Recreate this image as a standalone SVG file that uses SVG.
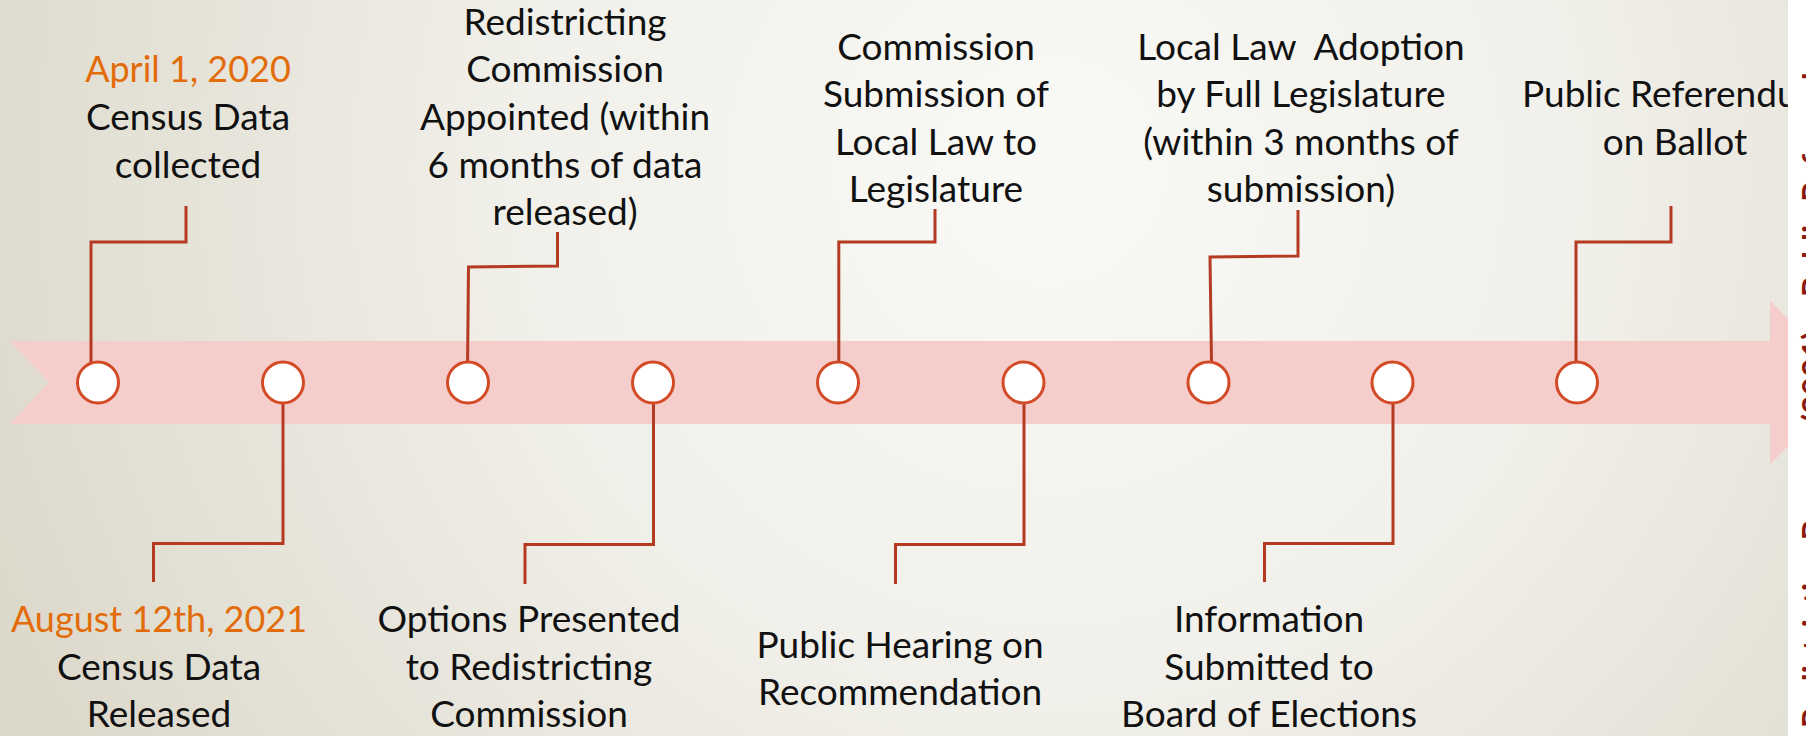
<svg xmlns="http://www.w3.org/2000/svg" width="1806" height="736" viewBox="0 0 1806 736">
<defs>
<radialGradient id="bg" gradientUnits="userSpaceOnUse" cx="1050" cy="170" r="1150">
<stop offset="0" stop-color="#f9f9f6"/>
<stop offset="0.45" stop-color="#f1f0ea"/>
<stop offset="1" stop-color="#dcd8ca"/>
</radialGradient>
<style>
.lbl{font-family:Lato,"Open Sans","Liberation Sans",sans-serif;font-size:37px;fill:#111;text-anchor:middle}
.date{fill:#e36c0a;font-size:36px}
.dot{fill:#fff;stroke:#d24a26;stroke-width:3}
.con{fill:none;stroke:#b53a22;stroke-width:3}
.side{font-family:Lato,"Liberation Sans",sans-serif;font-weight:bold;font-size:32px;fill:#8c1a14}
</style>
</defs>
<rect width="1806" height="736" fill="url(#bg)"/>
<path d="M10,341 H1770 V300.5 L1852,382.5 L1770,464.5 V424 H10 L49,382.5 Z" fill="#f5cecb"/>
<g id="connectors">
<path class="con" d="M91,362 V242 H186 V206"/>
<path class="con" d="M467.6,362 L468.5,267 L557.5,266 V232"/>
<path class="con" d="M838.8,362 V242 H935 V209"/>
<path class="con" d="M1211.5,362 L1210,257 L1298,256 V210"/>
<path class="con" d="M1576,362 V242 H1671 V206"/>
<path class="con" d="M283,403 V543.5 H153.5 V582"/>
<path class="con" d="M653.5,403 V544.5 H525 V584"/>
<path class="con" d="M1024,403 V544.5 H895.5 V584"/>
<path class="con" d="M1393,403 V543.5 H1264.5 V582"/>
</g>
<g id="n1"><circle class="dot" cx="98" cy="382.5" r="20.5"/>
<text class="lbl" x="188"><tspan class="date" x="188" y="82">April 1, 2020</tspan><tspan x="188" y="130">Census Data</tspan><tspan x="188" y="177.5">collected</tspan></text></g>
<g id="n2"><circle class="dot" cx="283" cy="382.5" r="20.5"/>
<text class="lbl" x="159"><tspan class="date" x="159" y="632">August 12th, 2021</tspan><tspan x="159" y="679.5">Census Data</tspan><tspan x="159" y="727">Released</tspan></text></g>
<g id="n3"><circle class="dot" cx="468" cy="382.5" r="20.5"/>
<text class="lbl" x="565"><tspan x="565" y="35">Redistricting</tspan><tspan x="565" y="82">Commission</tspan><tspan x="565" y="130">Appointed (within</tspan><tspan x="565" y="177.5">6 months of data</tspan><tspan x="565" y="225">released)</tspan></text></g>
<g id="n4"><circle class="dot" cx="653" cy="382.5" r="20.5"/>
<text class="lbl" x="529"><tspan x="529" y="632">Options Presented</tspan><tspan x="529" y="679.5">to Redistricting</tspan><tspan x="529" y="727">Commission</tspan></text></g>
<g id="n5"><circle class="dot" cx="838" cy="382.5" r="20.5"/>
<text class="lbl" x="936"><tspan x="936" y="59.5">Commission</tspan><tspan x="936" y="107">Submission of</tspan><tspan x="936" y="154.5">Local Law to</tspan><tspan x="936" y="202">Legislature</tspan></text></g>
<g id="n6"><circle class="dot" cx="1023.5" cy="382.5" r="20.5"/>
<text class="lbl" x="900"><tspan x="900" y="657.5">Public Hearing on</tspan><tspan x="900" y="705">Recommendation</tspan></text></g>
<g id="n7"><circle class="dot" cx="1208.5" cy="382.5" r="20.5"/>
<text class="lbl" x="1301" xml:space="preserve"><tspan x="1301" y="59.5">Local Law  Adoption</tspan><tspan x="1301" y="107">by Full Legislature</tspan><tspan x="1301" y="154.5">(within 3 months of</tspan><tspan x="1301" y="202">submission)</tspan></text></g>
<g id="n8"><circle class="dot" cx="1392.5" cy="382.5" r="20.5"/>
<text class="lbl" x="1269"><tspan x="1269" y="632">Information</tspan><tspan x="1269" y="679.5">Submitted to</tspan><tspan x="1269" y="727">Board of Elections</tspan></text></g>
<g id="n9"><circle class="dot" cx="1577" cy="382.5" r="20.5"/>
<text class="lbl" x="1675"><tspan x="1675" y="107">Public Referendum</tspan><tspan x="1675" y="154.5">on Ballot</tspan></text></g>
<rect x="1788" y="0" width="18" height="736" fill="#ffffff"/>
<text class="side" transform="translate(1826,728) rotate(-90)">Redistricting Process (2021) – Public Referendum</text>
</svg>
